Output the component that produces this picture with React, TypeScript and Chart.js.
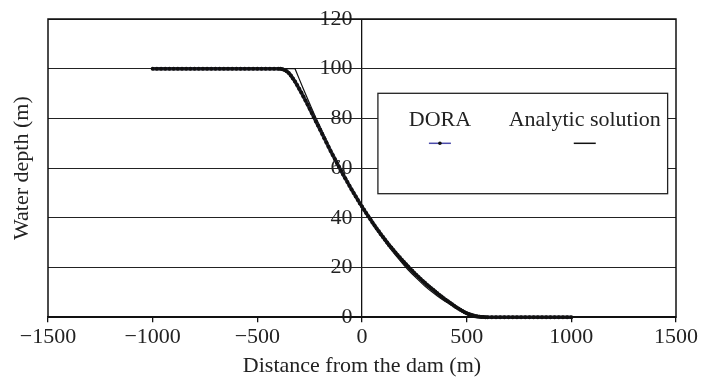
import React, { useEffect, useRef } from "react";
import { Chart, registerables } from "chart.js";

Chart.register(...registerables);

const FONT = "'Liberation Serif', 'Times New Roman', serif";

const xTitle = "Distance from the dam (m)";
const yTitle = "Water depth (m)";
const seriesNames = ["DORA", "Analytic solution"];

const xMin = -1500;
const xMax = 1500;
const xStep = 500;
const yMin = 0;
const yMax = 120;
const yStep = 20;

const doraX = [
  -1000, -980, -960, -940, -920, -900, -880, -860, -840, -820,
  -800, -780, -760, -740, -720, -700, -680, -660, -640, -620,
  -600, -580, -560, -540, -520, -500, -480, -460, -440, -420,
  -400, -390, -380, -370, -360, -350, -340, -330, -320, -310,
  -300, -290, -280, -270, -260, -250, -240, -230, -220, -210,
  -200, -190, -180, -170, -160, -150, -140, -130, -120, -110,
  -100, -90, -80, -70, -60, -50, -40, -30, -20, -10,
  0, 10, 20, 30, 40, 50, 60, 70, 80, 90,
  100, 110, 120, 130, 140, 150, 160, 170, 180, 190,
  200, 210, 220, 230, 240, 250, 260, 270, 280, 290,
  300, 310, 320, 330, 340, 350, 360, 370, 380, 390,
  400, 410, 420, 430, 440, 450, 460, 470, 480, 490,
  500, 510, 520, 530, 540, 550, 560, 570, 580, 590,
  600, 620, 640, 660, 680, 700, 720, 740, 760, 780,
  800, 820, 840, 860, 880, 900, 920, 940, 960, 980, 1000,
];

const doraY = [
  100, 100, 100, 100, 100, 100, 100, 100, 100, 100,
  100, 100, 100, 100, 100, 100, 100, 100, 100, 100,
  100, 100, 100, 100, 100, 100, 100, 100, 100, 100,
  100, 99.95, 99.8, 99.5, 99.0, 98.3, 97.3, 96.1, 94.8, 93.4,
  91.9, 90.4, 88.8, 87.2, 85.6, 83.9, 82.2, 80.5, 78.8, 77.1,
  75.4, 73.7, 72.0, 70.3, 68.6, 66.9, 65.3, 63.7, 62.1, 60.5,
  58.9, 57.4, 55.9, 54.4, 52.9, 51.4, 50.0, 48.6, 47.2, 45.8,
  44.5, 43.2, 41.9, 40.6, 39.4, 38.1, 36.9, 35.7, 34.6, 33.4,
  32.3, 31.2, 30.1, 29.0, 28.0, 27.0, 26.0, 25.0, 24.1, 23.1,
  22.2, 21.3, 20.4, 19.5, 18.7, 17.8, 17.0, 16.2, 15.4, 14.6,
  13.9, 13.1, 12.4, 11.7, 11.0, 10.3, 9.6, 8.9, 8.3, 7.6,
  7.0, 6.4, 5.8, 5.2, 4.6, 4.0, 3.5, 3.0, 2.5, 2.0,
  1.6, 1.2, 0.9, 0.6, 0.4, 0.25, 0.15, 0.1, 0.05, 0.02,
  0, 0, 0, 0, 0, 0, 0, 0, 0, 0,
  0, 0, 0, 0, 0, 0, 0, 0, 0, 0, 0,
];

const analyticX = [
  -1000, -320, -300, -280, -260, -240, -220, -200, -180, -160,
  -140, -120, -100, -80, -60, -40, -20, 0, 20, 40,
  60, 80, 100, 120, 140, 160, 180, 200, 220, 240,
  260, 280, 300, 320, 340, 360, 380, 400, 420, 440,
  460, 480, 500, 520, 540, 560, 580, 600, 620, 640, 1000,
];

const analyticY = [
  100, 100, 95.9, 91.8, 87.9, 84.0, 80.2, 76.6, 73.0, 69.4,
  66.0, 62.7, 59.4, 56.3, 53.2, 50.2, 47.3, 44.4, 41.7, 39.1,
  36.5, 34.0, 31.6, 29.3, 27.1, 25.0, 23.0, 21.0, 19.1, 17.4,
  15.7, 14.1, 12.5, 11.1, 9.8, 8.5, 7.3, 6.2, 5.3, 4.3,
  3.5, 2.8, 2.1, 1.6, 1.1, 0.7, 0.4, 0.2, 0.04, 0, 0,
];

const fmt = (v: number) => (v < 0 ? "\u2212" + Math.abs(v) : String(v));

const overlayPlugin = {
  id: "overlay",
  afterDraw(chart: any) {
    const { ctx, chartArea, scales } = chart;
    const xs = scales.x;
    const ys = scales.y;
    ctx.save();
    // plot frame
    ctx.strokeStyle = "#111";
    ctx.lineWidth = 1.5;
    ctx.strokeRect(chartArea.left, chartArea.top, chartArea.right - chartArea.left, chartArea.bottom - chartArea.top);

    // y title
    ctx.fillStyle = "#222";
    ctx.font = `22px ${FONT}`;
    ctx.textAlign = "center";
    ctx.textBaseline = "middle";
    ctx.translate(22, (chartArea.top + chartArea.bottom) / 2);
    ctx.rotate(-Math.PI / 2);
    ctx.fillText(yTitle, 0, 0);
    ctx.restore();

    // legend box
    ctx.save();
    const bx1 = xs.getPixelForValue(76);
    const bx2 = xs.getPixelForValue(1460);
    const by1 = ys.getPixelForValue(90.1);
    const by2 = ys.getPixelForValue(49.7);
    ctx.fillStyle = "#fff";
    ctx.fillRect(bx1, by1, bx2 - bx1, by2 - by1);
    ctx.strokeStyle = "#222";
    ctx.lineWidth = 1.3;
    ctx.strokeRect(bx1, by1, bx2 - bx1, by2 - by1);
    const w = bx2 - bx1;
    const c1 = bx1 + w * 0.214;
    const c2 = bx1 + w * 0.714;
    ctx.fillStyle = "#222";
    ctx.font = `22px ${FONT}`;
    ctx.textAlign = "center";
    ctx.textBaseline = "alphabetic";
    ctx.fillText(seriesNames[0], c1, by1 + 33);
    ctx.fillText(seriesNames[1], c2, by1 + 33);
    const my = by1 + 50;
    ctx.strokeStyle = "#4b4baa";
    ctx.lineWidth = 1.5;
    ctx.beginPath();
    ctx.moveTo(c1 - 11, my);
    ctx.lineTo(c1 + 11, my);
    ctx.stroke();
    ctx.fillStyle = "#111";
    ctx.beginPath();
    ctx.arc(c1, my, 1.8, 0, Math.PI * 2);
    ctx.fill();
    ctx.strokeStyle = "#111";
    ctx.lineWidth = 1.5;
    ctx.beginPath();
    ctx.moveTo(c2 - 11, my);
    ctx.lineTo(c2 + 11, my);
    ctx.stroke();
    ctx.restore();
  },
};

export default function App() {
  const ref = useRef<HTMLCanvasElement | null>(null);

  useEffect(() => {
    if (!ref.current) return;
    const chart = new Chart(ref.current, {
      type: "scatter",
      data: {
        datasets: [
          {
            label: seriesNames[0],
            data: doraX.map((x, i) => ({ x, y: doraY[i] })),
            showLine: true,
            clip: false,
            borderColor: "#262636",
            borderWidth: 3.5,
            pointRadius: 2,
            pointBackgroundColor: "#111",
            pointBorderWidth: 0,
          },
          {
            label: seriesNames[1],
            data: analyticX.map((x, i) => ({ x, y: analyticY[i] })),
            showLine: true,
            clip: false,
            borderColor: "#111",
            borderWidth: 1.2,
            pointRadius: 0,
          },
        ],
      },
      options: {
        animation: false,
        responsive: false,
        layout: { padding: { left: 48, right: 35, top: 19, bottom: 0 } },
        plugins: { legend: { display: false }, tooltip: { enabled: false } },
        scales: {
          x: {
            type: "linear",
            min: xMin,
            max: xMax,
            ticks: {
              stepSize: xStep,
              color: "#222",
              font: { family: FONT, size: 22 },
              padding: 2,
              maxRotation: 0,
              callback: (v: any) => fmt(Number(v)),
            },
            grid: {
              drawOnChartArea: true,
              drawTicks: true,
              tickLength: 5,
              tickColor: "#111",
              lineWidth: 1.3,
              color: (c: any) => (c.tick && c.tick.value === 0 ? "#111" : "rgba(0,0,0,0)"),
            },
            border: { display: true, color: "#111", width: 1.5 },
            title: {
              display: true,
              text: xTitle,
              color: "#222",
              font: { family: FONT, size: 22 },
              padding: { top: 0, bottom: 2 },
            },
          },
          y: {
            type: "linear",
            position: { x: -45 } as any,
            min: yMin,
            max: yMax,
            ticks: {
              stepSize: yStep,
              color: "#222",
              font: { family: FONT, size: 22 },
            },
            grid: {
              drawOnChartArea: true,
              drawTicks: false,
              color: "#222",
              lineWidth: 1,
            },
            border: { display: false },
          },
        },
      },
      plugins: [overlayPlugin],
    });
    return () => chart.destroy();
  }, []);

  return (
    <div style={{ position: "fixed", left: 0, top: 0, width: 711, height: 381, background: "#fff" }}>
      <canvas ref={ref} width={711} height={381} />
    </div>
  );
}
